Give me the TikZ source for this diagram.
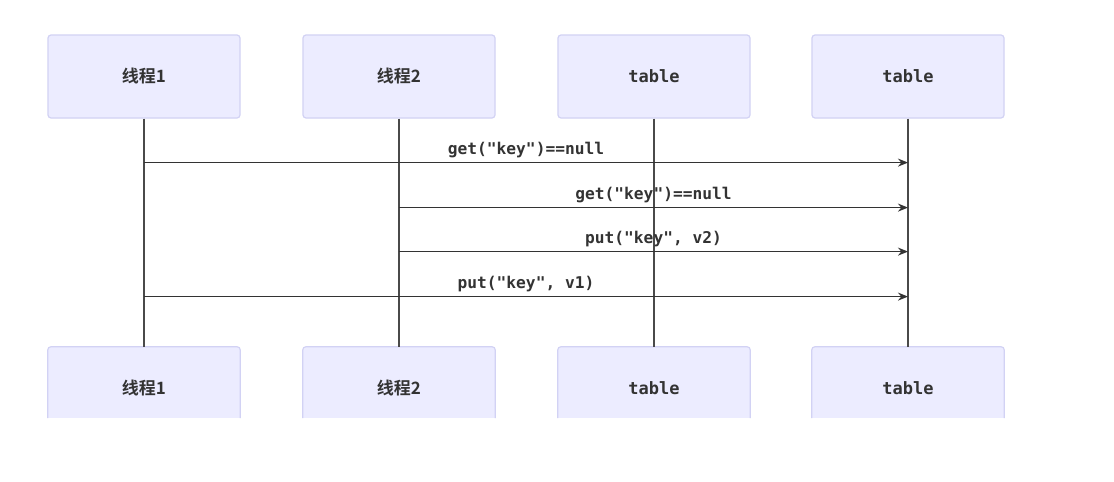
\documentclass[tikz,border=0pt]{standalone}
\usepackage{fontspec}
\setmainfont{DejaVu Sans}
\setmonofont{DejaVu Sans Mono}
\newfontfamily\cjk{Noto Sans CJK SC}[BoldFont={Noto Sans CJK SC Bold}]
\usetikzlibrary{arrows.meta}
\definecolor{boxfill}{HTML}{ECECFF}
\definecolor{boxline}{HTML}{D2D2F4}
\definecolor{ink}{HTML}{333333}
\definecolor{life}{HTML}{4A4A4A}
\tikzset{
  actor/.style={rectangle, rounded corners=3pt, fill=boxfill, draw=boxline, line width=1.2pt,
    minimum width=192pt, minimum height=83pt, inner sep=0pt, text=ink, font=\fontsize{17}{19}\selectfont},
  actorcut/.style={rectangle, fill=boxfill, minimum width=192pt, minimum height=71pt, inner sep=0pt,
    text=ink, font=\fontsize{17}{19}\selectfont},
  cutborder/.style={draw=boxline, line width=1.2pt, rounded corners=3pt},
  cuttext/.style={text=ink, font=\fontsize{17}{19}\selectfont, inner sep=0pt},
  lifeline/.style={draw=life, line width=2pt},
  msg/.style={draw=ink, line width=1.7pt, -{Stealth[length=10pt,width=8pt]}},
  msglabel/.style={anchor=south, inner sep=3.5pt, text=ink, font=\ttfamily\bfseries\fontsize{16.2}{18}\selectfont}
}
\begin{document}
\begin{tikzpicture}[x=1pt,y=-1pt]
\useasboundingbox (0,0) rectangle (1114,482);
\fill[white] (0,0) rectangle (1114,482);
% top actors
\node[actor] (t1) at (144,76.5) {\cjk\bfseries 线程1};
\node[actor] (t2) at (399,76.5) {\cjk\bfseries 线程2};
\node[actor] (t3) at (654,76.5) {\ttfamily\bfseries table};
\node[actor] (t4) at (908,76.5) {\ttfamily\bfseries table};
% bottom actors (cut off at bottom)
\node[actorcut] (b1) at (144,382.5) {};
\node[actorcut] (b2) at (399,382.5) {};
\node[actorcut] (b3) at (654,382.5) {};
\node[actorcut] (b4) at (908,382.5) {};
\node[cuttext] (bl1) at (144,388) {\cjk\bfseries 线程1};
\node[cuttext] (bl2) at (399,388) {\cjk\bfseries 线程2};
\node[cuttext] (bl3) at (654,388) {\ttfamily\bfseries table};
\node[cuttext] (bl4) at (908,388) {\ttfamily\bfseries table};
\foreach \b in {b1,b2,b3,b4}{
  \draw[cutborder] (\b.south west) -- (\b.north west) -- (\b.north east) -- (\b.south east);
}
% lifelines
\foreach \i in {1,2,3,4}{
  \draw[lifeline] (t\i.south) -- (b\i.north);
}
% message anchors
\path (t1.south) ++(0,44) coordinate (s1);
\path (t2.south) ++(0,89) coordinate (s2);
\path (t2.south) ++(0,133) coordinate (s3);
\path (t1.south) ++(0,178) coordinate (s4);
\draw[msg] (s1) -- (s1 -| t4.south) node[msglabel, midway] {get("key")==null};
\draw[msg] (s2) -- (s2 -| t4.south) node[msglabel, midway] {get("key")==null};
\draw[msg] (s3) -- (s3 -| t4.south) node[msglabel, midway] {put("key", v2)};
\draw[msg] (s4) -- (s4 -| t4.south) node[msglabel, midway] {put("key", v1)};
\end{tikzpicture}
\end{document}
